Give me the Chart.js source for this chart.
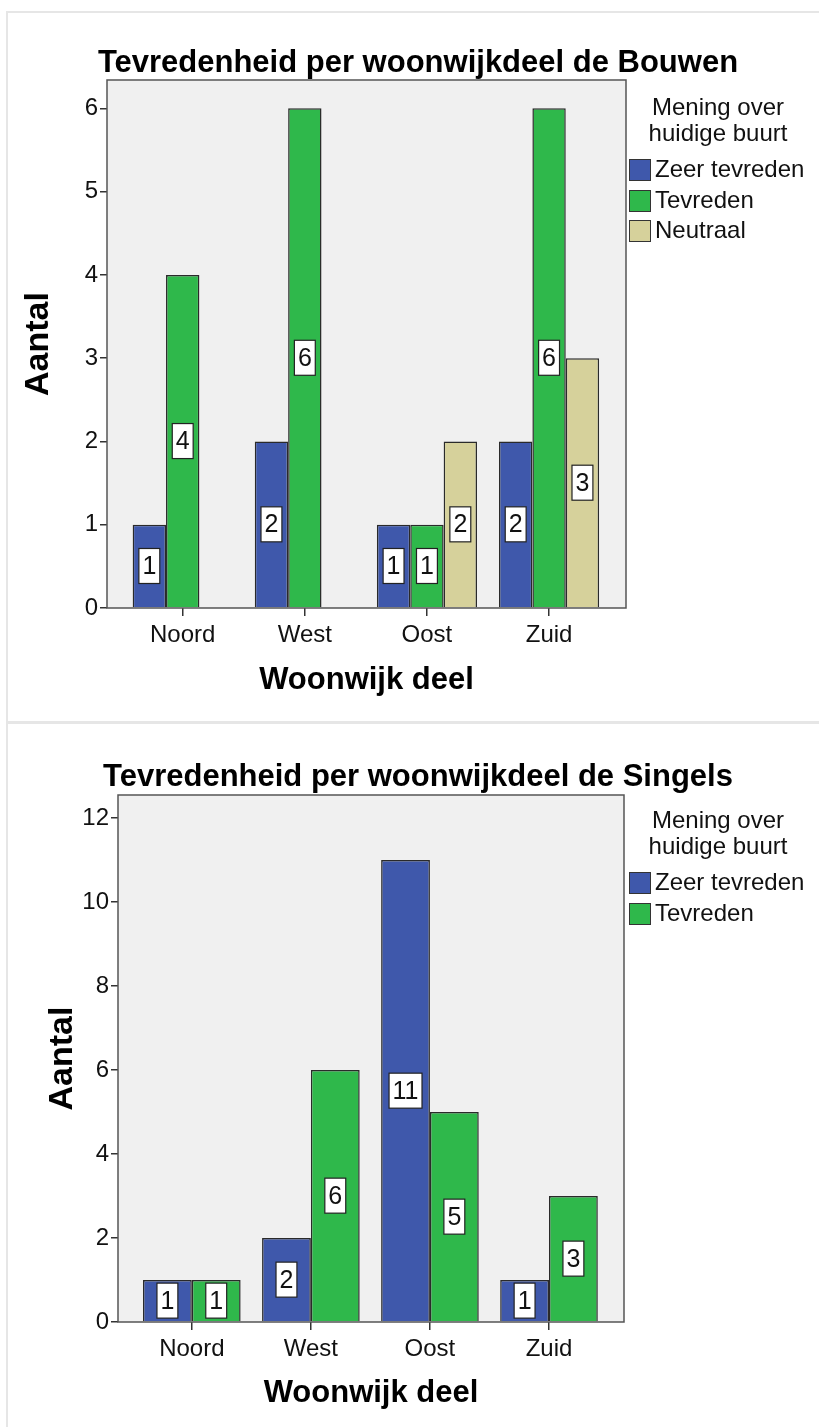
<!DOCTYPE html>
<html>
<head>
<meta charset="utf-8">
<script src="https://cdn.jsdelivr.net/npm/chart.js@4/dist/chart.umd.min.js"></script>
<style>
  body { margin: 0; background: #fff; width: 819px; height: 1427px; overflow: hidden; position: relative;
         font-family: "Liberation Sans", Arial, sans-serif; }
  .panel { position: absolute; left: 6px; width: 840px; border: 2px solid #e6e6e6; box-sizing: border-box; }
  canvas { position: absolute; left: 0; }
  .title { position: absolute; left: 0; width: 836px; text-align: center; font-weight: bold;
           font-size: 31px; line-height: 36px; color: #000; white-space: nowrap; }
  .legend { position: absolute; left: 618px; width: 200px; font-size: 24px; color: #111; }
  .legend .lt { text-align: center; line-height: 26px; }
  .legend .row { position: absolute; left: 11px; height: 30px; white-space: nowrap; }
  .legend .sw { position: absolute; left: 0; top: 0; width: 20px; height: 20px; border: 1px solid #333; }
  .legend .tx { position: absolute; left: 26px; top: -5px; line-height: 30px; }
</style>
</head>
<body>
<div class="panel" style="top:11px;height:712px"></div>
<div class="panel" style="top:722px;height:720px"></div>

<canvas id="bouwen" width="819" height="720" style="top:0"></canvas>
<div class="title" style="top:44px">Tevredenheid per woonwijkdeel de Bouwen</div>
<div class="legend" id="legBouwen" style="top:94px"></div>

<canvas id="singels" width="819" height="707" style="top:720px"></canvas>
<div class="title" style="top:758px">Tevredenheid per woonwijkdeel de Singels</div>
<div class="legend" id="legSingels" style="top:807px"></div>

<script>
// data
var categories = ['Noord', 'West', 'Oost', 'Zuid'];
var seriesNames = ['Zeer tevreden', 'Tevreden', 'Neutraal'];
var seriesColors = ['#3f58ab', '#2fb84b', '#d6d19b'];

var bouwenZeer = [1, 2, 1, 2];
var bouwenTevreden = [4, 6, 1, 6];
var bouwenNeutraal = [0, 0, 2, 3];

var singelsZeer = [1, 2, 11, 1];
var singelsTevreden = [1, 6, 5, 3];

var legendTitle = ['Mening over', 'huidige buurt'];
var font = '"Liberation Sans", Arial, sans-serif';

function toPoints(values) {
    return values.map(function (v, i) { return { x: i, y: v }; });
}

// grey plot area with dark frame
var plotBox = {
    id: 'plotBox',
    beforeDatasetsDraw: function (chart) {
        var a = chart.chartArea, ctx = chart.ctx;
        ctx.save();
        ctx.fillStyle = '#f0f0f0';
        ctx.fillRect(a.left, a.top, a.right - a.left, a.bottom - a.top);
        ctx.restore();
    },
    afterDatasetsDraw: function (chart) {
        var a = chart.chartArea, ctx = chart.ctx;
        ctx.save();
        ctx.strokeStyle = '#555';
        ctx.lineWidth = 1.5;
        ctx.strokeRect(a.left, a.top, a.right - a.left, a.bottom - a.top);
        ctx.restore();
    }
};

// white boxes with the count in the middle of each bar
var barLabels = {
    id: 'barLabels',
    afterDraw: function (chart) {
        var ctx = chart.ctx;
        ctx.save();
        ctx.font = '25px ' + font;
        ctx.textAlign = 'center';
        ctx.textBaseline = 'middle';
        chart.data.datasets.forEach(function (ds, di) {
            chart.getDatasetMeta(di).data.forEach(function (bar, i) {
                var v = ds.data[i].y;
                if (!v) return;
                var txt = String(v);
                var w = ctx.measureText(txt).width + 7;
                var h = 35;
                var cy = (bar.y + bar.base) / 2;
                ctx.fillStyle = '#fff';
                ctx.fillRect(bar.x - w / 2, cy - h / 2, w, h);
                ctx.strokeStyle = '#222';
                ctx.lineWidth = 1.2;
                ctx.strokeRect(bar.x - w / 2, cy - h / 2, w, h);
                ctx.fillStyle = '#111';
                ctx.fillText(txt, bar.x, cy + 1);
            });
        });
        ctx.restore();
    }
};

function makeChart(id, sets, opts) {
    var datasets = sets.map(function (vals, k) {
        return {
            label: seriesNames[k],
            data: toPoints(vals),
            backgroundColor: seriesColors[k],
            borderColor: '#2a2a2a',
            borderWidth: 1.5,
            categoryPercentage: 0.82,
            barPercentage: 1.0
        };
    });
    return new Chart(document.getElementById(id), {
        type: 'bar',
        data: { datasets: datasets },
        plugins: [plotBox, barLabels],
        options: {
            responsive: false,
            animation: false,
            layout: { padding: { top: opts.padTop, right: opts.padRight, left: 0, bottom: 0 } },
            plugins: { legend: { display: false }, tooltip: { enabled: false } },
            scales: {
                x: {
                    type: 'linear',
                    offset: false,
                    min: -0.62, max: 3.63,
                    afterFit: function (s) { s.height = opts.xHeight; },
                    grid: { offset: false, drawOnChartArea: false, tickLength: 8, color: '#333', lineWidth: 1.5 },
                    border: { display: false },
                    ticks: {
                        stepSize: 1, includeBounds: false, padding: 5,
                        color: '#111', font: { family: font, size: 24 },
                        callback: function (v) { return categories[v] || ''; }
                    },
                    title: {
                        display: true, text: 'Woonwijk deel', color: '#000',
                        font: { family: font, size: 31, weight: 'bold' },
                        padding: { top: 0, bottom: opts.xTitlePad }
                    }
                },
                y: {
                    min: 0, max: opts.yMax,
                    afterFit: function (s) { s.width = opts.yWidth; },
                    grid: { drawOnChartArea: false, tickLength: 7, color: '#333', lineWidth: 1.5 },
                    border: { display: false },
                    ticks: {
                        stepSize: opts.yStep, includeBounds: false, padding: 2,
                        color: '#111', font: { family: font, size: 24 }
                    },
                    title: {
                        display: true, text: 'Aantal', color: '#000',
                        font: { family: font, size: 34, weight: 'bold' },
                        padding: { top: opts.yTitlePad, bottom: 0 }
                    }
                }
            }
        }
    });
}

function makeLegend(id, count) {
    var el = document.getElementById(id);
    var html = legendTitle.map(function (t) { return '<div class="lt">' + t + '</div>'; }).join('');
    for (var k = 0; k < count; k++) {
        html += '<div class="row" style="top:' + (65 + k * 30.5) + 'px">' +
            '<div class="sw" style="background:' + seriesColors[k] + '"></div>' +
            '<div class="tx">' + seriesNames[k] + '</div></div>';
    }
    el.innerHTML = html;
}

makeChart('bouwen', [bouwenZeer, bouwenTevreden, bouwenNeutraal], {
    padTop: 80, padRight: 193, yWidth: 107, xHeight: 112, yMax: 6.34, yStep: 1,
    xTitlePad: 21, yTitlePad: 18
});
makeChart('singels', [singelsZeer, singelsTevreden], {
    padTop: 75, padRight: 195, yWidth: 118, xHeight: 105, yMax: 12.55, yStep: 2,
    xTitlePad: 15, yTitlePad: 42
});
makeLegend('legBouwen', 3);
makeLegend('legSingels', 2);
</script>
</body>
</html>
